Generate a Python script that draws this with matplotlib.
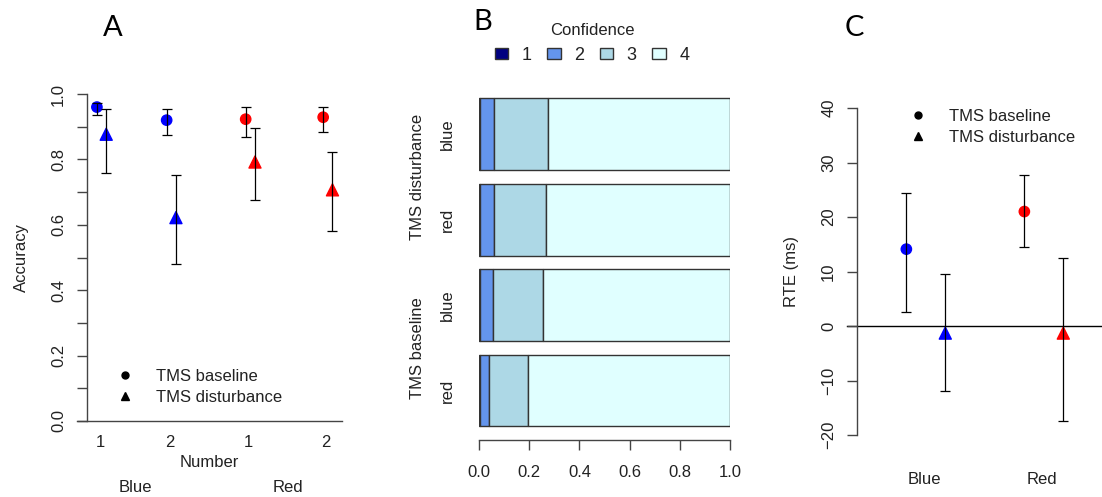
import numpy as np
import matplotlib
matplotlib.use("Agg")
import matplotlib.pyplot as plt
from matplotlib.lines import Line2D
from matplotlib.patches import Patch
import matplotlib.transforms as mtransforms

# Panel A: accuracy per colour / number
num_labels = ["1", "2", "1", "2"]
group_labels = ["Blue", "Red"]
acc_base = [0.960, 0.920, 0.923, 0.929]
acc_base_lo = [0.936, 0.875, 0.868, 0.883]
acc_base_hi = [0.972, 0.954, 0.961, 0.961]
acc_dist = [0.877, 0.622, 0.792, 0.707]
acc_dist_lo = [0.758, 0.480, 0.676, 0.582]
acc_dist_hi = [0.954, 0.752, 0.896, 0.824]
acc_colors = ["blue", "blue", "red", "red"]

# Panel B: confidence proportions (bottom bar first)
bar_labels = ["red", "blue", "red", "blue"]
bar_groups = ["TMS baseline", "TMS disturbance"]
conf_levels = ["1", "2", "3", "4"]
conf1 = [0.004, 0.003, 0.002, 0.003]
conf2 = [0.037, 0.053, 0.058, 0.057]
conf3 = [0.154, 0.199, 0.207, 0.216]
conf4 = [0.805, 0.745, 0.733, 0.724]
conf_colors = ["#000080", "#6495ED", "#ADD8E6", "#E0FFFF"]

# Panel C: RTE
rte_groups = ["Blue", "Red"]
rte_base = [14.1, 21.0]
rte_base_lo = [2.6, 14.5]
rte_base_hi = [24.4, 27.7]
rte_dist = [-1.3, -1.3]
rte_dist_lo = [-12.0, -17.4]
rte_dist_hi = [9.6, 12.4]
rte_colors = ["blue", "red"]

plt.rcParams["font.family"] = ["Liberation Sans", "DejaVu Sans"]
plt.rcParams["font.size"] = 12
TXT = "#222222"
AXC = "#444444"

W, H = 1102, 497
fig = plt.figure(figsize=(W / 100, H / 100), dpi=100)


def px_axes(x0, y0, x1, y1):
    return fig.add_axes([x0 / W, 1 - y1 / H, (x1 - x0) / W, (y1 - y0) / H])


def style_axes(ax):
    for s in ["top", "right"]:
        ax.spines[s].set_visible(False)
    for s in ax.spines.values():
        s.set_color(AXC)
        s.set_linewidth(1.0)
    ax.tick_params(colors=AXC, labelcolor=TXT, width=1.0, length=7, pad=9)
    ax.patch.set_alpha(0)


# ---------------- Panel A ----------------
axA = px_axes(77, 94, 342, 421)
style_axes(axA)
xpos = np.array([1.0, 1.9, 2.92, 3.92])
axA.set_xlim(0.703, 4.123)
axA.set_ylim(0, 1)
axA.spines["left"].set_position(("axes", 10 / 265))
axA.spines["left"].set_bounds(0, 1)
axA.set_yticks(np.arange(0, 1.01, 0.1))
axA.set_yticklabels([f"{v:.1f}" if i % 2 == 0 else "" for i, v in enumerate(np.arange(0, 1.01, 0.1))])
plt.setp(axA.get_yticklabels(), rotation=90, va="center", ha="right")
axA.tick_params(axis="y", pad=8)
axA.set_xticks(xpos)
axA.set_xticklabels(num_labels)
axA.tick_params(axis="x", length=0, pad=10)

axA.scatter(xpos - 0.04, acc_base, marker="o", s=55, c=acc_colors, zorder=2)
axA.scatter(xpos + 0.08, acc_dist, marker="^", s=75, c=acc_colors, zorder=2)
axA.errorbar(xpos - 0.04, acc_base,
             yerr=[np.array(acc_base) - acc_base_lo, np.array(acc_base_hi) - acc_base],
             fmt="none", ecolor="black", elinewidth=0.9, capsize=3.5, capthick=0.9, zorder=3)
axA.errorbar(xpos + 0.08, acc_dist,
             yerr=[np.array(acc_dist) - acc_dist_lo, np.array(acc_dist_hi) - acc_dist],
             fmt="none", ecolor="black", elinewidth=0.9, capsize=3.5, capthick=0.9, zorder=3)
axA.set_ylabel("Accuracy", color=TXT, labelpad=16)
axA.set_xlabel("Number", color=TXT, labelpad=4)
trA = mtransforms.blended_transform_factory(axA.transData, fig.transFigure)
for i, g in enumerate(group_labels):
    axA.text((xpos[2 * i] + xpos[2 * i + 1]) / 2, 1 - 488 / H, g, transform=trA,
             ha="center", va="center", color=TXT)
handles = [Line2D([], [], marker="o", color="black", ls="none", markersize=5),
           Line2D([], [], marker="^", color="black", ls="none", markersize=6)]
axA.legend(handles, ["TMS baseline", "TMS disturbance"], loc="upper left",
           bbox_to_anchor=(117 / W, 1 - 369 / H), bbox_transform=fig.transFigure,
           frameon=False, borderpad=0, borderaxespad=0, handlelength=1.0,
           handletextpad=1.35, labelspacing=0.33, labelcolor=TXT)
fig.text(113 / W, 1 - 28 / H, "A", fontsize=21, family="Lato", ha="center", va="center", color="black")

# ---------------- Panel B ----------------
axB = px_axes(479, 90, 730, 440)
style_axes(axB)
axB.spines["left"].set_visible(False)
axB.set_xlim(0, 1)
axB.set_ylim(-0.579, 3.515)
axB.spines["bottom"].set_bounds(0, 1)
axB.set_xticks(np.arange(0, 1.01, 0.2))
axB.set_xticklabels([f"{v:.1f}" for v in np.arange(0, 1.01, 0.2)])
axB.tick_params(axis="x", length=7, pad=11)
axB.set_yticks([])
ypos = np.arange(len(bar_labels))
left = np.zeros(len(bar_labels))
for vals, col in zip([conf1, conf2, conf3, conf4], conf_colors):
    axB.barh(ypos, vals, left=left, height=0.842, color=col, edgecolor="#333333", linewidth=1.0)
    left += np.array(vals)
trB = mtransforms.blended_transform_factory(fig.transFigure, axB.transData)
for y, lab in zip(ypos, bar_labels):
    axB.text(447 / W, y, lab, transform=trB, rotation=90, ha="center", va="center", color=TXT)
for i, g in enumerate(bar_groups):
    axB.text(417 / W, (ypos[2 * i] + ypos[2 * i + 1]) / 2, g, transform=trB, rotation=90,
             ha="center", va="center", color=TXT)
phandles = [Patch(facecolor=c, edgecolor="#333333", linewidth=1.0) for c in conf_colors]
legB = axB.legend(phandles, conf_levels, title="Confidence", ncol=4, loc="upper center",
                  bbox_to_anchor=(592 / W, 1 - 23 / H), bbox_transform=fig.transFigure,
                  frameon=False, borderpad=0, borderaxespad=0, fontsize=13,
                  title_fontsize=12, handlelength=0.75, handleheight=0.6,
                  handletextpad=0.75, columnspacing=0.85, labelcolor=TXT)
legB.get_title().set_color(TXT)
fig.text(483 / W, 1 - 22 / H, "B", fontsize=21, family="Lato", ha="center", va="center", color="black")

# ---------------- Panel C ----------------
axC = px_axes(847, 108, 1102, 435)
style_axes(axC)
axC.spines["bottom"].set_visible(False)
axC.set_xlim(0.347, 2.508)
axC.set_ylim(-20, 40)
axC.spines["left"].set_position(("axes", 10 / 255))
axC.spines["left"].set_bounds(-20, 40)
axC.set_yticks(np.arange(-20, 41, 10))
plt.setp(axC.get_yticklabels(), rotation=90, va="center", ha="right")
axC.tick_params(axis="y", pad=8)
axC.set_xticks([])
axC.axhline(0, color="black", lw=1.0, zorder=1, clip_on=False)
gpos = np.arange(1, len(rte_groups) + 1)
axC.scatter(gpos - 0.15, rte_base, marker="o", s=55, c=rte_colors, zorder=2)
axC.scatter(gpos + 0.18, rte_dist, marker="^", s=75, c=rte_colors, zorder=2)
axC.errorbar(gpos - 0.15, rte_base,
             yerr=[np.array(rte_base) - rte_base_lo, np.array(rte_base_hi) - rte_base],
             fmt="none", ecolor="black", elinewidth=0.9, capsize=3.5, capthick=0.9, zorder=3)
axC.errorbar(gpos + 0.18, rte_dist,
             yerr=[np.array(rte_dist) - rte_dist_lo, np.array(rte_dist_hi) - rte_dist],
             fmt="none", ecolor="black", elinewidth=0.9, capsize=3.5, capthick=0.9, zorder=3)
axC.set_ylabel("RTE (ms)", color=TXT, labelpad=16)
trC = mtransforms.blended_transform_factory(axC.transData, fig.transFigure)
for x, g in zip(gpos, rte_groups):
    axC.text(x, 1 - 480 / H, g, transform=trC, ha="center", va="center", color=TXT)
axC.legend(handles, ["TMS baseline", "TMS disturbance"], loc="upper left",
           bbox_to_anchor=(909.7 / W, 1 - 109 / H), bbox_transform=fig.transFigure,
           frameon=False, borderpad=0, borderaxespad=0, handlelength=1.0,
           handletextpad=1.35, labelspacing=0.33, labelcolor=TXT)
fig.text(854 / W, 1 - 28 / H, "C", fontsize=21, family="Lato", ha="center", va="center", color="black")

fig.savefig("out.png", dpi=100)
